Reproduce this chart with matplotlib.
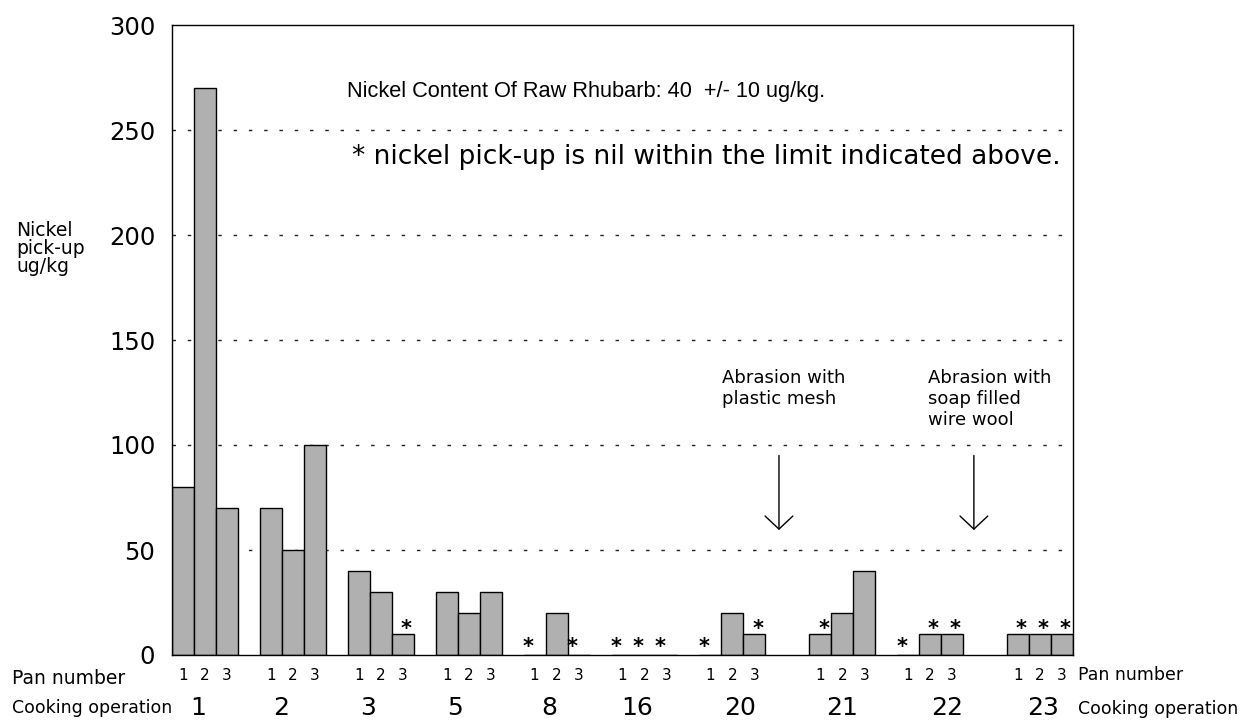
import matplotlib
matplotlib.use("Agg")
import matplotlib.pyplot as plt

plt.rcParams['font.family'] = ['DejaVu Sans']

# ---- data ----
operations = ["1", "2", "3", "5", "8", "16", "20", "21", "22", "23"]
pan_labels = ["1", "2", "3"]
pan1 = [80, 70, 40, 30, 0, 0, 0, 10, 0, 10]
pan2 = [270, 50, 30, 20, 20, 0, 20, 20, 10, 10]
pan3 = [70, 100, 10, 30, 0, 0, 10, 40, 10, 10]
# asterisk flags (nickel pick-up nil within limit)
star1 = [0, 0, 0, 0, 1, 1, 1, 1, 1, 1]
star2 = [0, 0, 0, 0, 0, 1, 0, 0, 1, 1]
star3 = [0, 0, 1, 0, 1, 1, 1, 0, 1, 1]
yticks = [0, 50, 100, 150, 200, 250, 300]
gridlines = [50, 100, 150, 200, 250]

# ---- layout (bar-width units) ----
group_start = [0, 4, 8, 12, 16, 20, 24, 29, 33, 38]
op_label_x = [1.2, 4.95, 8.9, 12.9, 17.15, 21.15, 25.85, 30.5, 35.25, 39.65]
bar_w = 1.0

fig = plt.figure(figsize=(12.5, 7.21), dpi=100)
ax = fig.add_axes([172/1250, 66/721, 901/1250, 630/721])
ax.set_xlim(0, 41)
ax.set_ylim(0, 300)

for y in gridlines:
    ax.axhline(y, color='#222222', lw=1.0, dashes=(2.5, 8.5), zorder=1)

pans = [pan1, pan2, pan3]
stars = [star1, star2, star3]
for p in range(3):
    xs = [g + p * bar_w + bar_w / 2 for g in group_start]
    ax.bar(xs, pans[p], width=bar_w, color='#b0b0b0', edgecolor='black',
           linewidth=1.0, zorder=2)
    for x, v, s in zip(xs, pans[p], stars[p]):
        if s:
            if v == 0:
                ax.text(x - 0.3, v + 0.9, '*', ha='center', va='baseline',
                        fontsize=15, fontweight='bold', zorder=3)
            else:
                ax.text(x + 0.15, v - 0.6, '*', ha='center', va='baseline',
                        fontsize=15, fontweight='bold', zorder=3)
    for x in xs:
        ax.text(x, -10, pan_labels[p], ha='center', va='center', fontsize=11,
                clip_on=False)

for x, lab in zip(op_label_x, operations):
    ax.text(x, -25.3, lab, ha='center', va='center', fontsize=18,
            clip_on=False)

ax.set_yticks(yticks)
ax.set_yticklabels([str(t) for t in yticks], fontsize=17.5)
ax.tick_params(axis='y', length=0, pad=12)
ax.set_xticks([])
for sp in ax.spines.values():
    sp.set_linewidth(1.0)
    sp.set_color('black')

# left / right axis texts
ax.text(-7.28, -11.2, "Pan number", ha='left', va='center', fontsize=13.5,
        clip_on=False)
ax.text(-7.28, -25.4, "Cooking operation", ha='left', va='center',
        fontsize=12.5, clip_on=False)
ax.text(41.25, -9.3, "Pan number", ha='left', va='center', fontsize=12.5,
        clip_on=False)
ax.text(41.25, -25.6, "Cooking operation", ha='left', va='center',
        fontsize=12.5, clip_on=False)
ax.text(-7.1, 193.5, "Nickel\npick-up\nug/kg", ha='left', va='center',
        fontsize=13.5, linespacing=0.95, clip_on=False)

# header texts
ax.text(7.96, 265.7, "Nickel Content Of Raw Rhubarb: 40  +/- 10 ug/kg.",
        ha='left', va='baseline', fontsize=15.7,
        family=['Liberation Sans Narrow', 'Liberation Sans', 'DejaVu Sans'])
ax.text(8.2, 233.8, "* nickel pick-up is nil within the limit indicated above.",
        ha='left', va='baseline', fontsize=19)

# annotations
ax.text(25.02, 136, "Abrasion with\nplastic mesh", ha='left', va='top',
        fontsize=13, linespacing=1.2)
ax.text(34.4, 136, "Abrasion with\nsoap filled\nwire wool", ha='left',
        va='top', fontsize=13, linespacing=1.2)
for ax_x in [27.62, 36.49]:
    ax.annotate('', xy=(ax_x, 59.5), xytext=(ax_x, 95),
                arrowprops=dict(arrowstyle='->,head_length=0.94,head_width=1.0',
                                mutation_scale=10, lw=1.0, color='black',
                                shrinkA=0, shrinkB=0))

fig.savefig("out.png", dpi=100)
